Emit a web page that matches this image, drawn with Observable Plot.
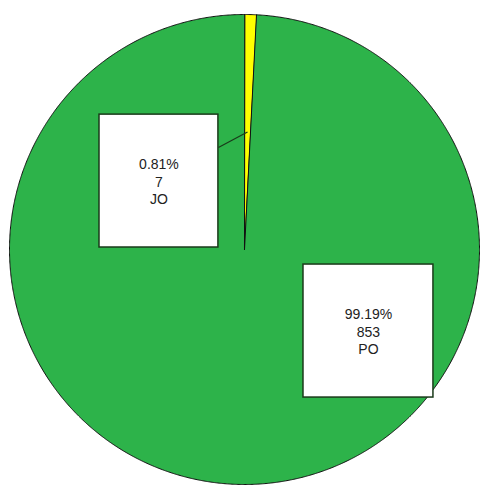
<!DOCTYPE html>
<html>
<head>
<meta charset="utf-8">
<script src="https://cdn.jsdelivr.net/npm/d3@7"></script>
<script src="https://cdn.jsdelivr.net/npm/@observablehq/plot@0.6"></script>
<style>
  html, body { margin: 0; padding: 0; background: #fff; }
  #chart { width: 480px; height: 486px; }
</style>
</head>
<body>
<div id="chart"></div>
<script>
// ---- data ----
const categories = ["JO", "PO"];
const counts = [7, 853];
const percents = ["0.81%", "99.19%"];
const colors = ["#ffff00", "#2db34a"];

// ---- layout (unit-circle coordinates, y up) ----
const labelBoxes = {
  JO: {x1: -0.617, x2: -0.111, y1: 0.0085, y2: 0.574, anchorX: -0.111, anchorY: 0.434},
  PO: {x1: 0.251, x2: 0.804, y1: -0.630, y2: -0.064}
};

const total = d3.sum(counts);
const pie = d3.pie().sort(null).value(d => d.count);
const table = categories.map((c, i) => ({name: c, count: counts[i], pct: percents[i]}));
const arcs = pie(table);

// polygon points for slices (angle measured clockwise from 12 o'clock)
const slicePts = [];
arcs.forEach(a => {
  const name = a.data.name;
  slicePts.push({name, x: 0, y: 0});
  const n = Math.max(4, Math.ceil((a.endAngle - a.startAngle) / 0.005));
  for (let k = 0; k <= n; k++) {
    const t = a.startAngle + (a.endAngle - a.startAngle) * k / n;
    slicePts.push({name, x: Math.sin(t), y: Math.cos(t)});
  }
});

const boxes = categories.map(c => ({name: c, ...labelBoxes[c]}));
const labels = table.map(d => {
  const b = labelBoxes[d.name];
  return {x: (b.x1 + b.x2) / 2, y: (b.y1 + b.y2) / 2, text: `${d.pct}\n${d.count}\n${d.name}`};
});
const leaders = arcs.filter(a => labelBoxes[a.data.name].anchorX !== undefined).map(a => {
  const m = (a.startAngle + a.endAngle) / 2;
  const b = labelBoxes[a.data.name];
  return {x1: 0.5 * Math.sin(m), y1: 0.5 * Math.cos(m), x2: b.anchorX, y2: b.anchorY};
});

const R = 235, cx = 244, cy = 249, W = 480, H = 486;

const chart = Plot.plot({
  width: W,
  height: H,
  margin: 0,
  x: {domain: [-cx / R, (W - cx) / R], axis: null},
  y: {domain: [-(H - cy) / R, cy / R], axis: null},
  color: {domain: categories, range: colors},
  style: {fontFamily: "'Liberation Sans', Arial, sans-serif", background: "#fff"},
  marks: [
    Plot.line(slicePts, {x: "x", y: "y", z: "name", fill: "name", stroke: "#111", strokeWidth: 1, curve: "linear-closed"}),
    Plot.link(leaders, {x1: "x1", y1: "y1", x2: "x2", y2: "y2", stroke: "#1a3a1a", strokeWidth: 1.2}),
    Plot.rect(boxes, {x1: "x1", x2: "x2", y1: "y1", y2: "y2", fill: "#fff", stroke: "#1a3a1a", strokeWidth: 1.5}),
    Plot.text(labels, {x: "x", y: "y", text: "text", fontSize: 14, lineHeight: 1.25, fill: "#222", textAnchor: "middle", lineAnchor: "middle"})
  ]
});
document.getElementById("chart").appendChild(chart);
</script>
</body>
</html>
